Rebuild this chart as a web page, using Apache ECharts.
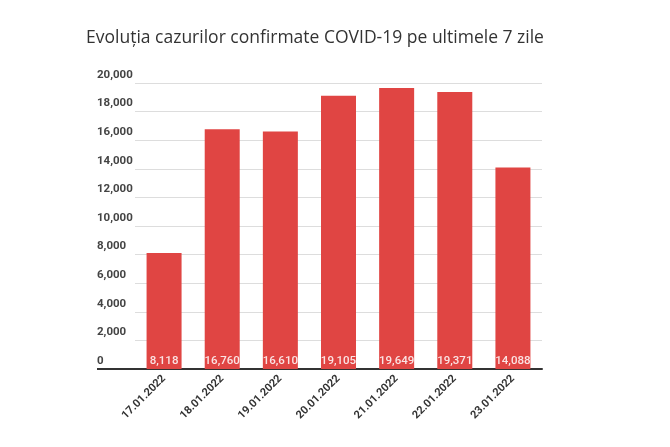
<!DOCTYPE html>
<html>
<head>
<meta charset="utf-8">
<script src="https://cdn.jsdelivr.net/npm/echarts@6/dist/echarts.min.js"></script>
<style>
  html, body { margin: 0; padding: 0; background: #fff; }
  #chart { width: 670px; height: 447px; }
</style>
</head>
<body>
<div id="chart"></div>
<script>
const days = ['17.01.2022', '18.01.2022', '19.01.2022', '20.01.2022', '21.01.2022', '22.01.2022', '23.01.2022'];
const cases = [8118, 16760, 16610, 19105, 19649, 19371, 14088];

const fmt = v => Number(v).toLocaleString('en-US');

const chart = echarts.init(document.getElementById('chart'));

chart.setOption({
    animation: false,
    backgroundColor: '#fff',
    title: {
        text: 'Evoluția cazurilor confirmate COVID-19 pe ultimele 7 zile',
        left: 81,
        top: 24,
        textStyle: {
            fontFamily: 'Open Sans',
            fontSize: 17.5,
            fontWeight: 'normal',
            color: '#333'
        }
    },
    grid: { left: 135, right: 128, top: 83, bottom: 78 },
    // baseline runs on under the y labels, like the original
    graphic: [{
        type: 'line',
        shape: { x1: 97, y1: 369, x2: 136, y2: 369 },
        style: { stroke: '#333', lineWidth: 2 }
    }],
    xAxis: {
        type: 'category',
        data: days,
        axisTick: { show: false },
        axisLine: { lineStyle: { color: '#333', width: 2 } },
        axisLabel: {
            rotate: 45,
            margin: 8,
            fontFamily: 'Roboto',
            fontSize: 11,
            fontWeight: 'bold',
            color: '#333'
        }
    },
    yAxis: {
        type: 'value',
        min: 0,
        max: 20000,
        interval: 2000,
        axisLine: { show: false },
        axisTick: { show: false },
        splitLine: { lineStyle: { color: '#ddd' } },
        axisLabel: {
            align: 'left',
            verticalAlign: 'bottom',
            margin: 38,
            padding: [0, 0, 2, 0],
            fontFamily: 'Roboto',
            fontSize: 11.5,
            fontWeight: 'bold',
            color: '#444',
            formatter: v => fmt(v)
        }
    },
    series: [{
        type: 'bar',
        data: cases,
        barWidth: 35,
        itemStyle: { color: '#e04543' },
        label: {
            show: true,
            position: 'insideBottom',
            distance: 2,
            fontFamily: 'Roboto',
            fontSize: 11.5,
            fontWeight: 500,
            color: '#fbe3e3',
            formatter: p => fmt(p.value)
        }
    }]
});
</script>
</body>
</html>
